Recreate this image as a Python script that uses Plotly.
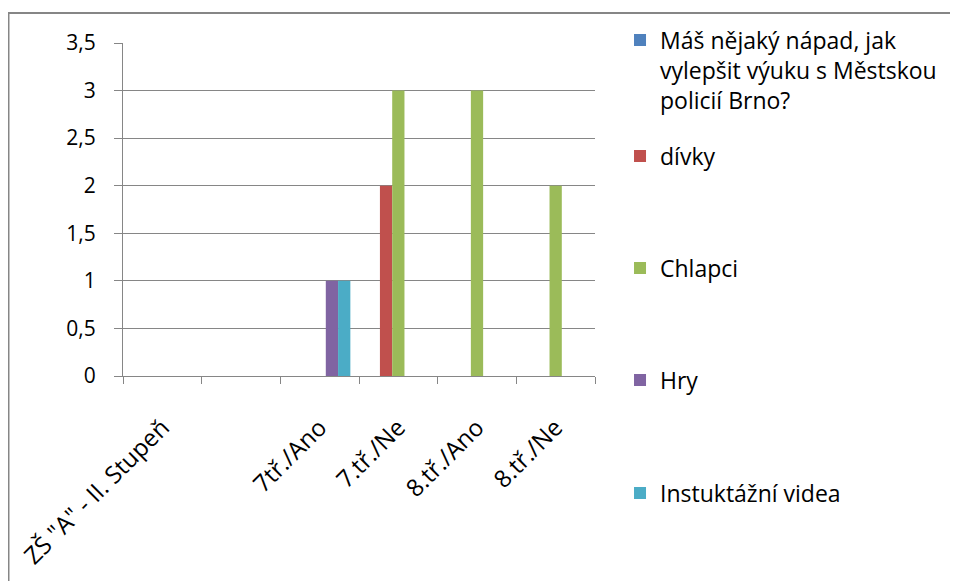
import plotly.graph_objects as go

categories = ['ZŠ "A" - II. Stupeň', " ", "7tř./Ano", "7.tř./Ne", "8.tř./Ano", "8.tř./Ne"]

series_names = [
    "Máš nějaký nápad, jak<br>vylepšit výuku s Městskou<br>policií Brno?",
    "dívky",
    "Chlapci",
    "Hry",
    "Instuktážní videa",
]
napad = [0, 0, 0, 0, 0, 0]
divky = [None, None, None, 2, None, None]
chlapci = [None, None, None, 3, 3, 2]
hry = [None, None, 1, None, None, None]
videa = [None, None, 1, None, None, None]

colors = ["#4F81BD", "#C0504D", "#9BBB59", "#8064A2", "#4BACC6"]
# vertical place of each legend entry, in paper units
legend_y = [1.07, 0.6587, 0.3234, -0.012, -0.3503]

GRID = "#868686"
FONT = "Open Sans"

fig = go.Figure()
for i, (name, vals) in enumerate(zip(series_names, [napad, divky, chlapci, hry, videa])):
    fig.add_trace(
        go.Bar(
            x=categories,
            y=vals,
            name=name,
            marker=dict(color=colors[i], line=dict(width=0)),
            legend="legend" if i == 0 else f"legend{i + 1}",
            showlegend=True,
            hoverinfo="skip",
        )
    )

legends = {}
for i, y in enumerate(legend_y):
    key = "legend" if i == 0 else f"legend{i + 1}"
    legends[key] = dict(
        x=1.053,
        xanchor="left",
        y=y,
        yanchor="top" if i == 0 else "middle",
        valign="top",
        font=dict(family=FONT, size=23, color="#000000"),
        bgcolor="rgba(0,0,0,0)",
        borderwidth=0,
    )

# the page body adds an 8px margin, so the figure is 8px smaller than the window
fig.update_layout(
    template="none",
    width=950,
    height=573,
    margin=dict(l=115, r=363, t=34, b=205),
    paper_bgcolor="white",
    plot_bgcolor="white",
    showlegend=True,
    separators=", ",
    barmode="group",
    bargap=0.22,
    bargroupgap=0,
    font=dict(family=FONT, size=21, color="#000000"),
    **legends,
)
fig.update_yaxes(
    range=[0, 3.5],
    tickvals=[0, 0.5, 1, 1.5, 2, 2.5, 3, 3.5],
    tickformat=".1~f",
    showgrid=True,
    gridcolor=GRID,
    gridwidth=1,
    zeroline=False,
    showline=True,
    linecolor=GRID,
    linewidth=1,
    ticks="outside",
    ticklen=8,
    tickcolor=GRID,
    ticklabelstandoff=14,
    tickfont=dict(family=FONT, size=21),
)
fig.update_xaxes(
    type="category",
    showgrid=False,
    showline=True,
    linecolor=GRID,
    linewidth=1,
    ticks="outside",
    tickson="boundaries",
    ticklen=7,
    tickcolor=GRID,
    tickangle=-45,
    ticklabelstandoff=27,
    tickfont=dict(family=FONT, size=24),
)

# chart frame (only top and left edges are inside the picture)
fig.add_shape(
    type="rect",
    xref="paper",
    yref="paper",
    x0=-0.2426,
    y0=-0.9,
    x1=1.9,
    y1=1.0898,
    line=dict(color=GRID, width=2),
    fillcolor="rgba(0,0,0,0)",
    layer="below",
)

fig.write_html("out.html")
